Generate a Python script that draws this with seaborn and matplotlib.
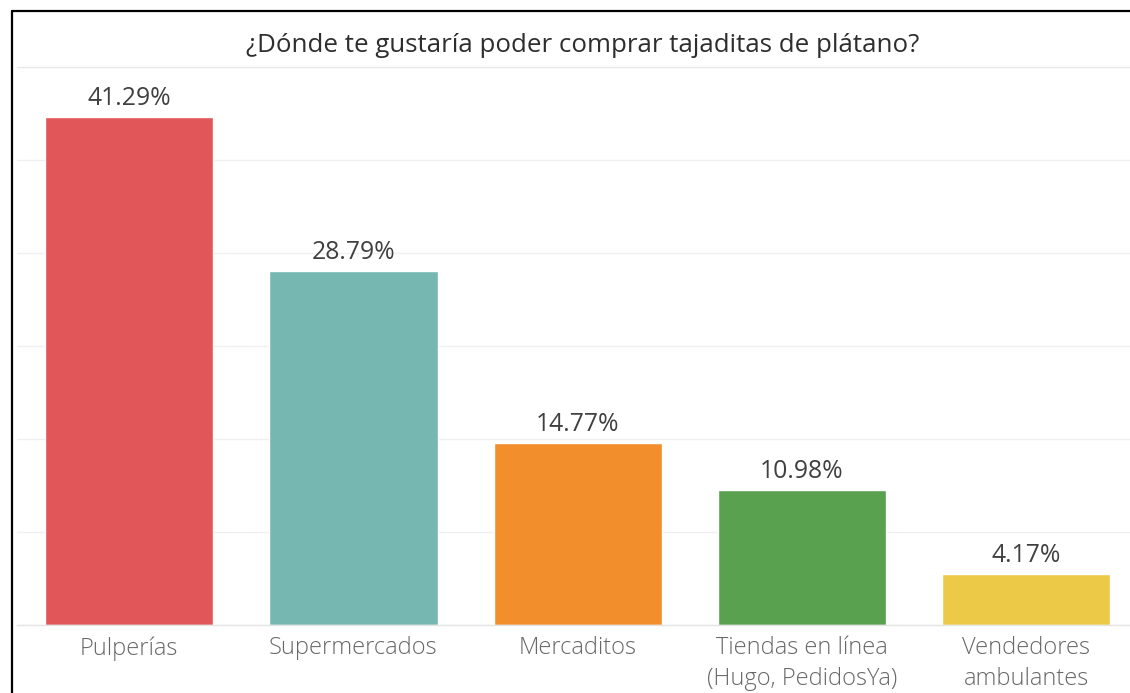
import matplotlib
matplotlib.use("Agg")
import matplotlib.pyplot as plt
import seaborn as sns
import pandas as pd
import numpy as np
from matplotlib.lines import Line2D

categories = ["Pulperías", "Supermercados", "Mercaditos",
              "Tiendas en línea\n(Hugo, PedidosYa)", "Vendedores\nambulantes"]
values = [41.29, 28.79, 14.77, 10.98, 4.17]
value_labels = ["41.29%", "28.79%", "14.77%", "10.98%", "4.17%"]
colors = ["#E15759", "#76B7B2", "#F28E2B", "#59A14F", "#EDC948"]
title = "¿Dónde te gustaría poder comprar tajaditas de plátano?"

sns.set_theme(style="white")
plt.rcParams["font.family"] = ["Open Sans", "DejaVu Sans"]

W, H = 1130, 693
fig = plt.figure(figsize=(W / 100, H / 100), dpi=100)
fig.patch.set_facecolor("white")

ax_left, ax_right, ax_bottom, ax_top = 17, 1138.5, 625, 67
ax = fig.add_axes([ax_left / W, 1 - ax_bottom / H,
                   (ax_right - ax_left) / W, (ax_bottom - ax_top) / H])

df = pd.DataFrame({"cat": categories, "val": values})
sns.barplot(data=df, x="cat", y="val", hue="cat", palette=colors,
            legend=False, width=0.75, ax=ax, saturation=1)

ymax = (ax_bottom - ax_top) / 12.3
ax.set_ylim(0, ymax)
ax.set_xlim(-0.5, len(categories) - 0.5)
ax.set_yticks(np.arange(0, ymax, 7.56))
ax.yaxis.grid(True, color="#f0f0f0", linewidth=1)
ax.set_axisbelow(True)
ax.tick_params(axis="y", left=False, labelleft=False)
ax.tick_params(axis="x", bottom=False, pad=2, labelsize=17, labelcolor="#686868")
for lbl in ax.get_xticklabels():
    lbl.set_linespacing(1.38)
    lbl.set_fontweight("light")
ax.set_xlabel("")
ax.set_ylabel("")
for s in ["left", "right", "top"]:
    ax.spines[s].set_visible(False)
ax.spines["bottom"].set_color("#e4e4e4")
ax.spines["bottom"].set_linewidth(1)

for i, (v, t) in enumerate(zip(values, value_labels)):
    ax.text(i, v + 0.5, t, ha="center", va="bottom", fontsize=17.8,
            color="#404040")

# title
fig.text(583 / W, 1 - 45 / H, title, ha="center", va="center",
         fontsize=18.6, color="#2e2e2e", fontweight="medium")
# title separator
fig.add_artist(Line2D([ax_left / W, 1], [1 - 67 / H, 1 - 67 / H],
                      color="#e8e8e8", linewidth=1, transform=fig.transFigure))
# outer border
fig.add_artist(Line2D([11.5 / W, 11.5 / W], [0, 1 - 10.5 / H],
                      color="black", linewidth=1.6, transform=fig.transFigure))
fig.add_artist(Line2D([11.5 / W, 1], [1 - 10.5 / H, 1 - 10.5 / H],
                      color="black", linewidth=1.6, transform=fig.transFigure))

fig.savefig("out.png", dpi=100, facecolor="white")
